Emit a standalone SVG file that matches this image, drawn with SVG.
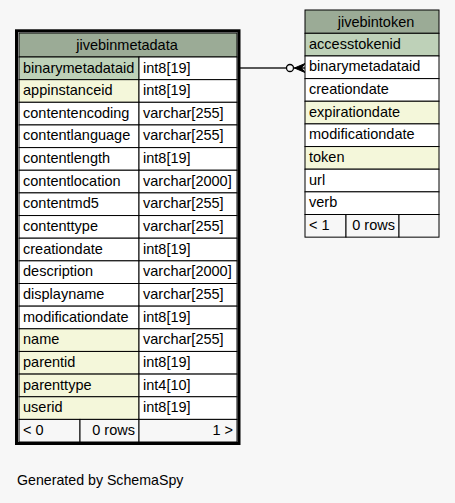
<svg xmlns="http://www.w3.org/2000/svg" width="455" height="503" viewBox="0 0 455 503">
<style>
text{font-family:"Liberation Sans",Arial,Helvetica,sans-serif;font-size:14.5px;fill:#000}
.c{stroke:#000;stroke-width:1;fill:#fff}
.h{stroke:#000;stroke-width:1;fill:#9bab96}
.pk{stroke:#000;stroke-width:1;fill:#bed1b8}
.ix{stroke:#000;stroke-width:1;fill:#f4f7da}
.ft{stroke:#000;stroke-width:1;fill:#f7f7f7}
.mid{text-anchor:middle}
.end{text-anchor:end}
</style>
<rect x="0" y="0" width="455" height="503" fill="#f7f7f7"/>
<g id="connectors">
<line x1="240" y1="68" x2="286.5" y2="68" stroke="#222" stroke-width="1.5"/>
<circle cx="290" cy="68" r="3.5" fill="none" stroke="#000" stroke-width="1.3"/>
<line x1="293.5" y1="68" x2="305" y2="68" stroke="#222" stroke-width="1.5"/>
<polygon points="294.5,68 305,63.5 301.5,68 305,72.5" fill="#000" stroke="#000" stroke-width="1"/>
</g>
<g id="jivebinmetadata">
<rect x="16.5" y="30.8" width="222.5" height="412.7" fill="#fff" stroke="#000" stroke-width="3"/>
<rect class="h" x="19" y="33" width="218" height="24"/>
<text class="mid" x="127" y="50">jivebinmetadata</text>
<g>
<rect class="pk" x="19" y="57" width="120" height="22.65"/><rect class="c" x="139" y="57" width="98" height="22.65"/>
<rect class="ix" x="19" y="79.65" width="120" height="22.65"/><rect class="c" x="139" y="79.65" width="98" height="22.65"/>
<rect class="c" x="19" y="102.3" width="120" height="22.65"/><rect class="c" x="139" y="102.3" width="98" height="22.65"/>
<rect class="c" x="19" y="124.95" width="120" height="22.65"/><rect class="c" x="139" y="124.95" width="98" height="22.65"/>
<rect class="c" x="19" y="147.6" width="120" height="22.65"/><rect class="c" x="139" y="147.6" width="98" height="22.65"/>
<rect class="c" x="19" y="170.25" width="120" height="22.65"/><rect class="c" x="139" y="170.25" width="98" height="22.65"/>
<rect class="c" x="19" y="192.9" width="120" height="22.65"/><rect class="c" x="139" y="192.9" width="98" height="22.65"/>
<rect class="c" x="19" y="215.55" width="120" height="22.65"/><rect class="c" x="139" y="215.55" width="98" height="22.65"/>
<rect class="c" x="19" y="238.2" width="120" height="22.65"/><rect class="c" x="139" y="238.2" width="98" height="22.65"/>
<rect class="c" x="19" y="260.85" width="120" height="22.65"/><rect class="c" x="139" y="260.85" width="98" height="22.65"/>
<rect class="c" x="19" y="283.5" width="120" height="22.65"/><rect class="c" x="139" y="283.5" width="98" height="22.65"/>
<rect class="c" x="19" y="306.15" width="120" height="22.65"/><rect class="c" x="139" y="306.15" width="98" height="22.65"/>
<rect class="ix" x="19" y="328.8" width="120" height="22.65"/><rect class="c" x="139" y="328.8" width="98" height="22.65"/>
<rect class="ix" x="19" y="351.45" width="120" height="22.65"/><rect class="c" x="139" y="351.45" width="98" height="22.65"/>
<rect class="ix" x="19" y="374.1" width="120" height="22.65"/><rect class="c" x="139" y="374.1" width="98" height="22.65"/>
<rect class="ix" x="19" y="396.75" width="120" height="22.65"/><rect class="c" x="139" y="396.75" width="98" height="22.65"/>
<rect class="ft" x="19" y="419.4" width="61" height="22.6"/><rect class="ft" x="80" y="419.4" width="59" height="22.6"/><rect class="ft" x="139" y="419.4" width="98" height="22.6"/>
</g>
<g>
<text x="23" y="72.5">binarymetadataid</text><text x="143" y="72.5">int8[19]</text>
<text x="23" y="95.15">appinstanceid</text><text x="143" y="95.15">int8[19]</text>
<text x="23" y="117.8">contentencoding</text><text x="143" y="117.8">varchar[255]</text>
<text x="23" y="140.45">contentlanguage</text><text x="143" y="140.45">varchar[255]</text>
<text x="23" y="163.1">contentlength</text><text x="143" y="163.1">int8[19]</text>
<text x="23" y="185.75">contentlocation</text><text x="143" y="185.75">varchar[2000]</text>
<text x="23" y="208.4">contentmd5</text><text x="143" y="208.4">varchar[255]</text>
<text x="23" y="231.05">contenttype</text><text x="143" y="231.05">varchar[255]</text>
<text x="23" y="253.7">creationdate</text><text x="143" y="253.7">int8[19]</text>
<text x="23" y="276.35">description</text><text x="143" y="276.35">varchar[2000]</text>
<text x="23" y="299">displayname</text><text x="143" y="299">varchar[255]</text>
<text x="23" y="321.65">modificationdate</text><text x="143" y="321.65">int8[19]</text>
<text x="23" y="344.3">name</text><text x="143" y="344.3">varchar[255]</text>
<text x="23" y="366.95">parentid</text><text x="143" y="366.95">int8[19]</text>
<text x="23" y="389.6">parenttype</text><text x="143" y="389.6">int4[10]</text>
<text x="23" y="412.25">userid</text><text x="143" y="412.25">int8[19]</text>
<text x="23" y="434.9">&lt; 0</text><text class="end" x="135" y="434.9">0 rows</text><text class="end" x="233" y="434.9">1 &gt;</text>
</g>
</g>
<g id="jivebintoken">
<rect class="h" x="305" y="10" width="134" height="23.3"/>
<text class="mid" x="376" y="26.5">jivebintoken</text>
<rect class="pk" x="305" y="33.3" width="134" height="22.65"/>
<rect class="c" x="305" y="55.95" width="134" height="22.65"/>
<rect class="c" x="305" y="78.6" width="134" height="22.65"/>
<rect class="ix" x="305" y="101.25" width="134" height="22.65"/>
<rect class="c" x="305" y="123.9" width="134" height="22.65"/>
<rect class="ix" x="305" y="146.55" width="134" height="22.65"/>
<rect class="c" x="305" y="169.2" width="134" height="22.65"/>
<rect class="c" x="305" y="191.85" width="134" height="22.65"/>
<rect class="ft" x="305" y="214.5" width="41" height="22.65"/><rect class="ft" x="346" y="214.5" width="53" height="22.65"/><rect class="ft" x="399" y="214.5" width="40" height="22.65"/>
<text x="309" y="48.8">accesstokenid</text>
<text x="309" y="71.45">binarymetadataid</text>
<text x="309" y="94.1">creationdate</text>
<text x="309" y="116.75">expirationdate</text>
<text x="309" y="139.4">modificationdate</text>
<text x="309" y="162.05">token</text>
<text x="309" y="184.7">url</text>
<text x="309" y="207.35">verb</text>
<text x="309" y="230">&lt; 1</text><text class="end" x="395" y="230">0 rows</text>
</g>
<text x="17" y="485" style="font-size:14.2px">Generated by SchemaSpy</text>
</svg>
